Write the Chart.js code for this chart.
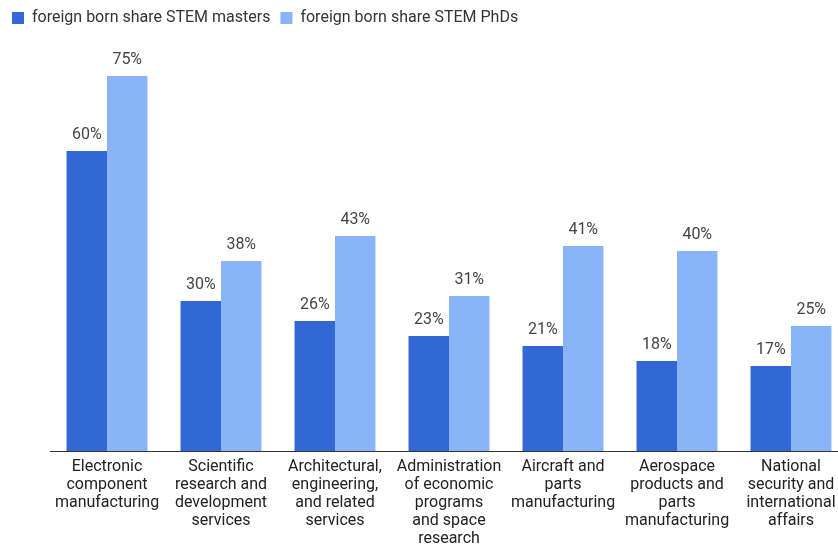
<!DOCTYPE html>
<html>
<head>
<meta charset="utf-8">
<script src="https://cdn.jsdelivr.net/npm/chart.js@4"></script>
<style>
  html, body { margin: 0; padding: 0; background: #fff; overflow: hidden; }
  #wrap { width: 848px; height: 548px; }
</style>
</head>
<body>
<div id="wrap"><canvas id="chart" width="848" height="548"></canvas></div>
<script>
const categories = [
    ['Electronic', 'component', 'manufacturing'],
    ['Scientific', 'research and', 'development', 'services'],
    ['Architectural,', 'engineering,', 'and related', 'services'],
    ['Administration', 'of economic', 'programs', 'and space', 'research'],
    ['Aircraft and', 'parts', 'manufacturing'],
    ['Aerospace', 'products and', 'parts', 'manufacturing'],
    ['National', 'security and', 'international', 'affairs']
];
const mastersShare = [60, 30, 26, 23, 21, 18, 17];
const phdShare = [75, 38, 43, 31, 41, 40, 25];

// draws the "xx%" labels above each bar
const valueLabels = {
    id: 'valueLabels',
    afterDatasetsDraw(chart) {
        const ctx = chart.ctx;
        ctx.save();
        ctx.font = '16px Roboto';
        ctx.fillStyle = '#444';
        ctx.textAlign = 'center';
        ctx.textBaseline = 'bottom';
        chart.data.datasets.forEach((ds, i) => {
            chart.getDatasetMeta(i).data.forEach((bar, j) => {
                ctx.fillText(ds.data[j] + '%', bar.x, bar.y - 8);
            });
        });
        ctx.restore();
    }
};

Chart.defaults.font.family = 'Roboto';
Chart.defaults.font.size = 16;
Chart.defaults.color = '#222';

new Chart(document.getElementById('chart').getContext('2d'), {
    type: 'bar',
    data: {
        labels: categories,
        datasets: [{
            label: 'foreign born share STEM masters',
            data: mastersShare,
            backgroundColor: '#3367d6'
        }, {
            label: 'foreign born share STEM PhDs',
            data: phdShare,
            backgroundColor: '#8ab4f8'
        }]
    },
    options: {
        responsive: false,
        animation: false,
        layout: { padding: { left: 2, right: 0, top: 0, bottom: 0 } },
        datasets: { bar: { categoryPercentage: 0.71, barPercentage: 1 } },
        plugins: {
            legend: {
                align: 'start',
                labels: { boxWidth: 12, boxHeight: 12, color: '#333', padding: 10 }
            },
            tooltip: { enabled: false }
        },
        scales: {
            x: {
                grid: { display: false, drawTicks: false },
                border: { color: '#333' },
                ticks: { maxRotation: 0, autoSkip: false, color: '#222', padding: 7,
                         font: { size: 16, lineHeight: '18px' } },
                afterFit(axis) { axis.height = 97; }
            },
            y: {
                min: 0, max: 83,
                grid: { display: false },
                border: { display: false },
                ticks: { display: false },
                afterFit(axis) { axis.width = 48; }
            }
        }
    },
    plugins: [valueLabels]
});
</script>
</body>
</html>
